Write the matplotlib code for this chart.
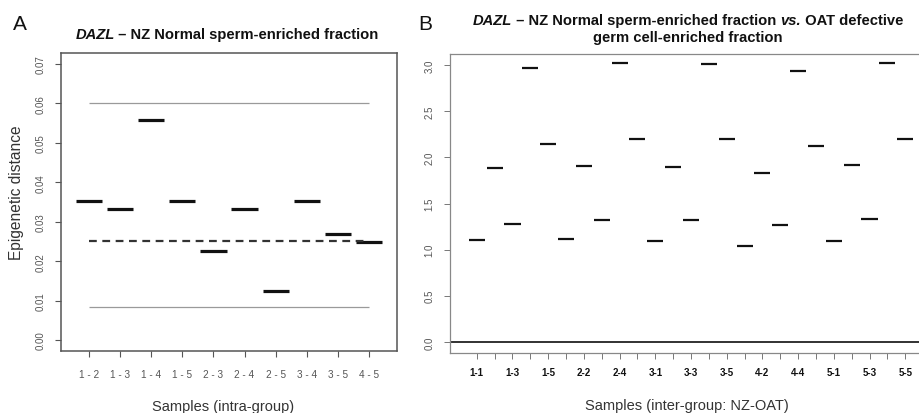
import matplotlib
matplotlib.use('Agg')
import matplotlib.pyplot as plt

plt.rcParams['font.family'] = ['Liberation Sans', 'DejaVu Sans']

# ======= Dados =======
# Painel A: pares intra-grupo
pares_a = ['1-2', '1-3', '1-4', '1-5', '2-3', '2-4', '2-5', '3-4', '3-5', '4-5']
dist_a = [0.0352, 0.0332, 0.0557, 0.0352, 0.0226, 0.0332, 0.0124, 0.0352, 0.0268, 0.0248]
limite_sup_a = 0.0600
limite_inf_a = 0.0083
ref_a = 0.0250

# Painel B: pares inter-grupo NZ-OAT
pares_b = ['1-1', '1-2', '1-3', '1-4', '1-5',
           '2-1', '2-2', '2-3', '2-4', '2-5',
           '3-1', '3-2', '3-3', '3-4', '3-5',
           '4-1', '4-2', '4-3', '4-4', '4-5',
           '5-1', '5-2', '5-3', '5-4', '5-5']
dist_b = [1.100, 1.880, 1.277, 2.973, 2.142,
          1.116, 1.910, 1.322, 3.026, 2.196,
          1.098, 1.899, 1.322, 3.009, 2.203,
          1.043, 1.828, 1.271, 2.936, 2.127,
          1.098, 1.918, 1.336, 3.026, 2.203]

W, H = 920, 414
fig = plt.figure(figsize=(W / 100, H / 100), dpi=100, facecolor='white')
renderer = fig.canvas.get_renderer()


def px_ax(l, t, r, b):
    return [l / W, 1 - b / H, (r - l) / W, (b - t) / H]


def linha_rica(xc, yc, partes, size):
    # texto com partes em italico, centrado em xc (pixels)
    textos = []
    for s, estilo in partes:
        textos.append(fig.text(0, 1 - yc / H, s, fontsize=size, fontweight='bold',
                               fontstyle=estilo, va='center', ha='left', color='#111111'))
    larguras = [t.get_window_extent(renderer).width for t in textos]
    x = xc - sum(larguras) / 2
    for t, w in zip(textos, larguras):
        t.set_x(x / W)
        x += w


cinza_txt = '#555555'

# ======= Painel A =======
ax1 = fig.add_axes(px_ax(61, 54, 397, 352))
xa = list(range(1, len(pares_a) + 1))
ax1.hlines(dist_a, [x - 0.42 for x in xa], [x + 0.42 for x in xa], color='#111111', lw=2.3)
ax1.hlines([limite_sup_a, limite_inf_a], 1, 10, color='#9a9a9a', lw=0.9)
ax1.hlines(ref_a, 1, 10, color='#333333', lw=1.6, linestyles=(0, (3.5, 2.5)))
ax1.set_xlim(0.1, 10.9)
ax1.set_ylim(-0.0028, 0.0728)
ax1.set_xticks(xa)
ax1.set_xticklabels([p.replace('-', ' - ') for p in pares_a])
ax1.set_yticks([0.0, 0.01, 0.02, 0.03, 0.04, 0.05, 0.06, 0.07])
ax1.set_yticklabels(['0.00', '0.01', '0.02', '0.03', '0.04', '0.05', '0.06', '0.07'])
ax1.tick_params(axis='x', length=4, width=0.8, color='#555555', pad=9, labelsize=7.2, labelcolor=cinza_txt)
ax1.tick_params(axis='y', length=4, width=0.8, color='#555555', pad=7, labelsize=7.0, labelcolor=cinza_txt)
plt.setp(ax1.get_yticklabels(), rotation=90, va='center', ha='right')
for sp in ax1.spines.values():
    sp.set_color('#555555')
    sp.set_linewidth(1.1)

fig.text(17 / W, 1 - 193 / H, 'Epigenetic distance', rotation=90, ha='center', va='center',
         fontsize=11.2, color='#333333')
fig.text(223 / W, 1 - 407 / H, 'Samples (intra-group)', ha='center', va='center',
         fontsize=10.5, color='#333333')
fig.text(20 / W, 1 - 25 / H, 'A', ha='center', va='center', fontsize=15, color='#111111')
linha_rica(227, 35, [('DAZL', 'italic'), (' – NZ Normal sperm-enriched fraction', 'normal')], 10.6)

# ======= Painel B =======
ax2 = fig.add_axes(px_ax(450, 55, 932, 354))
xb = list(range(1, len(pares_b) + 1))
ax2.hlines(dist_b, [x - 0.45 for x in xb], [x + 0.45 for x in xb], color='#111111', lw=1.6)
ax2.axhline(0, color='#222222', lw=1.3)
ax2.set_xlim(-0.5, 26.5)
ax2.set_ylim(-0.12, 3.12)
ax2.set_xticks(xb)
ax2.set_xticklabels([p if i % 2 == 0 else '' for i, p in enumerate(pares_b)])
ax2.set_yticks([0.0, 0.5, 1.0, 1.5, 2.0, 2.5, 3.0])
ax2.set_yticklabels(['0.0', '0.5', '1.0', '1.5', '2.0', '2.5', '3.0'])
ax2.tick_params(axis='x', length=4, width=0.7, color='#777777', pad=6, labelsize=7.0, labelcolor='#111111')
ax2.tick_params(axis='y', length=4, width=0.7, color='#777777', pad=7, labelsize=7.0, labelcolor=cinza_txt)
plt.setp(ax2.get_xticklabels(), fontweight='bold')
plt.setp(ax2.get_yticklabels(), rotation=90, va='center', ha='right')
for sp in ax2.spines.values():
    sp.set_color('#888888')
    sp.set_linewidth(0.9)

fig.text(687 / W, 1 - 406 / H, 'Samples (inter-group: NZ-OAT)', ha='center', va='center',
         fontsize=10.5, color='#333333')
fig.text(425 / W, 1 - 25 / H, 'B', ha='center', va='center', fontsize=15, color='#111111')
linha_rica(688, 21, [('DAZL', 'italic'), (' – NZ Normal sperm-enriched fraction ', 'normal'),
                     ('vs.', 'italic'), (' OAT defective', 'normal')], 10.6)
linha_rica(688, 38, [('germ cell-enriched fraction', 'normal')], 10.6)

fig.savefig('out.png', dpi=100, facecolor='white')
